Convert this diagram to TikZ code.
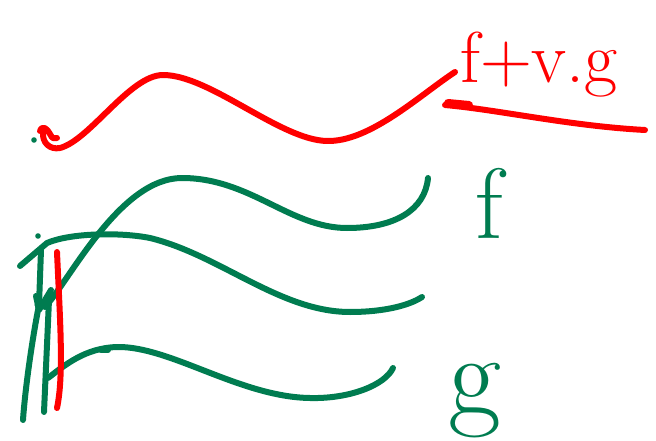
\documentclass[tikz,border=0pt]{standalone}
\definecolor{pen}{RGB}{0,124,80}
\definecolor{ink}{RGB}{255,0,0}
\begin{document}
\begin{tikzpicture}[x=1pt,y=-1pt,
  stroke/.style={line width=6pt, line cap=round, line join=round},
  gstroke/.style={stroke, draw=pen},
  rstroke/.style={stroke, draw=ink},
  rtext/.style={text=ink, inner sep=0pt, font=\fontsize{72}{72}\selectfont},
  gtext/.style={text=pen, inner sep=0pt}]
\useasboundingbox (0,0) rectangle (656,441);

% red wave
\draw[rstroke] (40,131) .. controls (42,125) and (47,128) .. (50,134) .. controls (52,139) and (55,139) .. (57,138);
\draw[rstroke] (43,132) .. controls (42,143) and (50,150) .. (60,148) .. controls (90,140) and (130,75) .. (163,75) .. controls (210,75) and (280,140) .. (327,141) .. controls (370,142) and (420,95) .. (455,72);
\fill[pen] (34,140) circle (2.8pt);

% red formula
\node[rtext, anchor=base west] (fvg) at (460,83) {f+v.g};
\coordinate (ul1) at (445,105);
\coordinate (ul2) at (645,130);
\draw[rstroke] (ul1) .. controls (500,110) and (570,126) .. (ul2);
\draw[rstroke, line width=8pt] (448,103) -- (469,105);

% green waves
\draw[gstroke] (45,307) .. controls (70,280) and (120,178) .. (182,178) .. controls (250,178) and (290,228) .. (347,228) .. controls (395,228) and (425,210) .. (428,178);
\draw[gstroke] (20,266) -- (47,243) .. controls (70,233) and (120,232) .. (150,238) .. controls (220,255) and (280,312) .. (350,312) .. controls (385,312) and (410,305) .. (422,297);
\draw[gstroke] (48,378) .. controls (65,365) and (85,348) .. (117,347) .. controls (170,346) and (240,397) .. (310,398) .. controls (350,399) and (385,385) .. (393,368);
\draw[gstroke] (101,350) -- (108,350);

% verticals
\draw[gstroke] (41,250) -- (39,305) .. controls (32,340) and (25,390) .. (23,420);
\draw[gstroke] (49,300) -- (44,412);
\draw[gstroke] (36,296) -- (39,310) -- (51,290);
\fill[pen] (39,305) circle (4.5pt);
\fill[pen] (38,236) circle (2.8pt);
\draw[rstroke] (57,252) .. controls (60,320) and (64,375) .. (57,408);

% green labels
\node[gtext, anchor=base west, font=\fontsize{100}{100}\selectfont] (f) at (475,238) {f};
\node[gtext, anchor=base west, font=\fontsize{115}{115}\selectfont] (g) at (448,414) {g};
\end{tikzpicture}
\end{document}
